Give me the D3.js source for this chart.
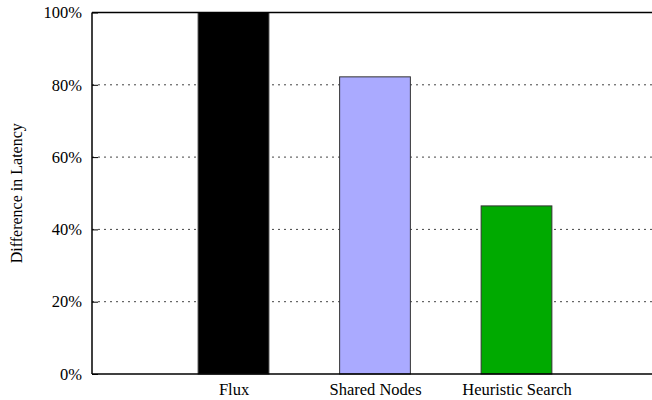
<!DOCTYPE html>
<html><head><meta charset="utf-8">
<script src="https://cdn.jsdelivr.net/npm/d3@7"></script>
<style>body{margin:0;background:#fff}svg{display:block}</style>
</head><body>
<svg id="c" width="652" height="400"></svg>
<script>
const categories = ["Flux", "Shared Nodes", "Heuristic Search"];
const values = [100, 82.2, 46.5];
const colors = ["#000000", "#aaaaff", "#00aa00"];
const yTicks = [0, 20, 40, 60, 80, 100];
const yLabel = "Difference in Latency";

const FONT = "'Liberation Serif', serif";
const svg = d3.select("#c");
const L = 92, R = 658, T = 12.5, B = 374;
const x = d3.scaleLinear().domain([-1, 3]).range([L, R]);
const y = d3.scaleLinear().domain([0, 100]).range([B, T]);
const bw = x(0.5) - x(0);

svg.append("g").selectAll("line").data(yTicks.filter(d => d > 0)).join("line")
  .attr("x1", L).attr("x2", R).attr("y1", d => y(d)).attr("y2", d => y(d))
  .attr("stroke", "#444").attr("stroke-width", 1).attr("stroke-dasharray", "2,4");

svg.append("g").selectAll("rect").data(values).join("rect")
  .attr("x", (d, i) => x(i) - bw / 2).attr("width", bw)
  .attr("y", d => y(d)).attr("height", d => B - y(d))
  .attr("fill", (d, i) => colors[i]).attr("stroke", "#333").attr("stroke-width", 1);

const ya = d3.axisLeft(y).tickValues(yTicks).tickFormat(d => d + "%").tickSize(-6).tickPadding(10);
const gy = svg.append("g").attr("transform", `translate(${L},0)`).call(ya);
gy.attr("font-family", null);
gy.select(".domain").remove();
gy.selectAll(".tick line").attr("stroke", "#000");
gy.selectAll("text").attr("x", -10).attr("fill", "#000").style("font-family", FONT).style("font-size", "16.5px");

const xa = d3.axisBottom(x).tickValues(d3.range(categories.length)).tickFormat(i => categories[i]).tickSize(0).tickPadding(9);
const gx = svg.append("g").attr("transform", `translate(0,${B})`).call(xa);
gx.attr("font-family", null);
gx.select(".domain").remove();
gx.selectAll("text").attr("fill", "#000").style("font-family", FONT).style("font-size", "16.5px");

svg.append("line").attr("x1", L).attr("x2", L).attr("y1", T).attr("y2", B).attr("stroke", "#000").attr("stroke-width", 1.5);
svg.append("line").attr("x1", L).attr("x2", R).attr("y1", B).attr("y2", B).attr("stroke", "#000").attr("stroke-width", 1.5);
svg.append("line").attr("x1", L).attr("x2", R).attr("y1", T).attr("y2", T).attr("stroke", "#000").attr("stroke-width", 1.5);

svg.append("text").attr("transform", `translate(22,${(T + B) / 2}) rotate(-90)`)
  .attr("text-anchor", "middle").attr("fill", "#000").style("font-family", FONT).style("font-size", "16px").text(yLabel);
</script>
</body></html>
